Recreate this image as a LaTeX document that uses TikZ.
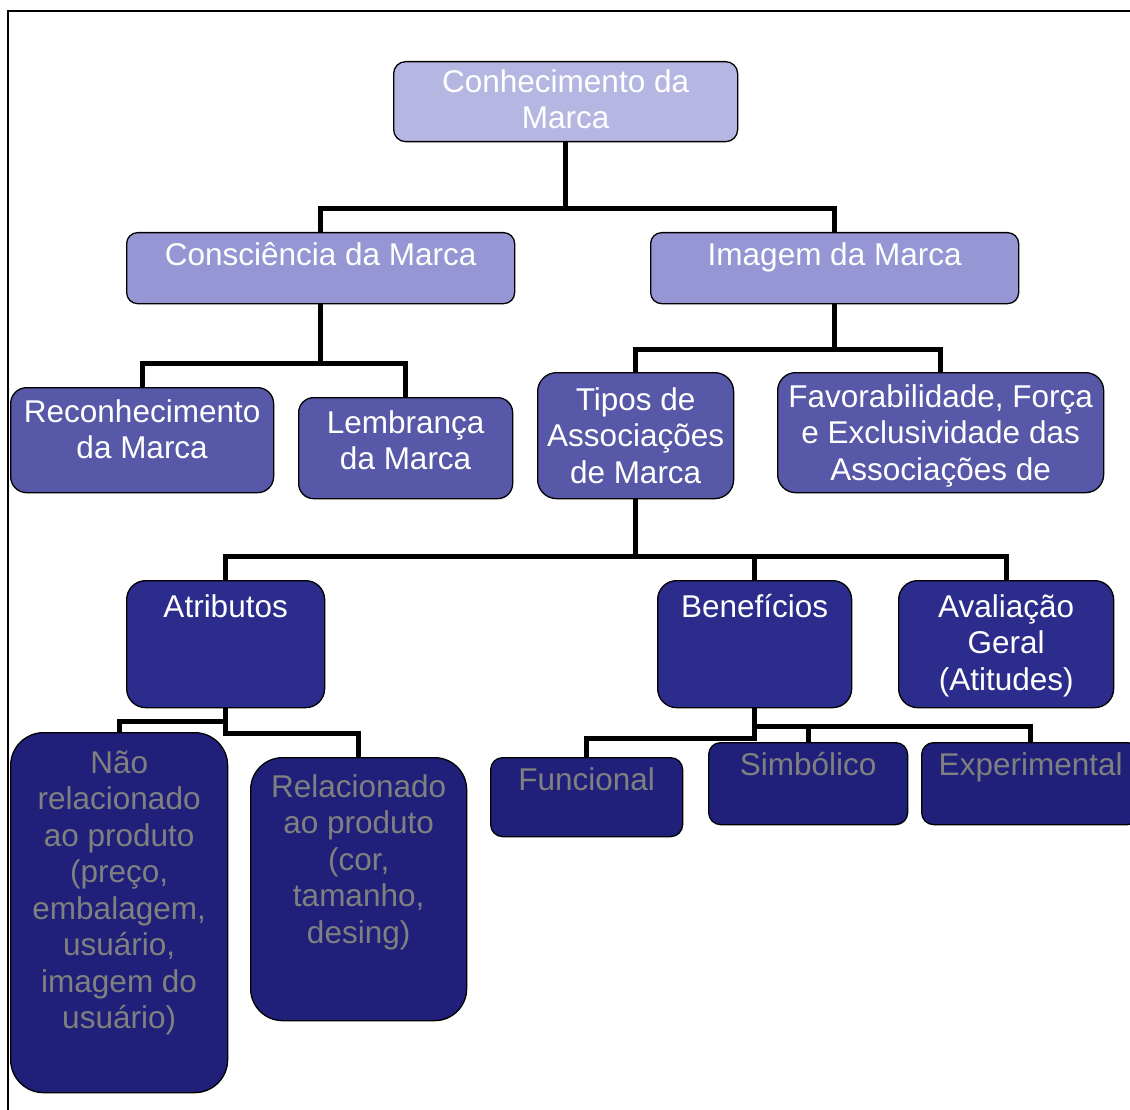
\documentclass[tikz,border=0pt]{standalone}
\usepackage{fontspec}
\setmainfont{Liberation Sans}
\usepackage{tikz}
\definecolor{lvOne}{RGB}{182,182,226}
\definecolor{lvTwo}{RGB}{150,150,212}
\definecolor{lvThree}{RGB}{88,88,168}
\definecolor{lvFour}{RGB}{44,44,140}
\definecolor{lvFive}{RGB}{32,32,122}
\definecolor{txtGray}{RGB}{128,128,128}

\begin{document}
\begin{tikzpicture}[x=1pt, y=-1pt,
  box/.style={draw=black, line width=1.3pt, inner sep=0pt, rounded corners=14pt,
    text=white, font=\fontsize{31.5}{36.5}\selectfont},
  lvone/.style={box, fill=lvOne},
  lvtwo/.style={box, fill=lvTwo},
  lvthree/.style={box, fill=lvThree},
  lvfour/.style={box, fill=lvFour},
  lvfive/.style={box, fill=lvFive, text=txtGray},
  link/.style={draw=black, line width=5pt}]

  \newcommand{\bx}[7]{\node[#5, minimum width=#3pt, minimum height=#4pt, anchor=north west] (#1) at (#2) {\parbox[c][#4pt][t]{#3pt}{\centering\vspace*{#6pt}\strut #7}};}

  \useasboundingbox (0,0) rectangle (1130,1110);
  \clip (0,0) rectangle (1130,1110);
  \draw[line width=1.5pt] (8,11) rectangle (1140,1120);

  \begin{scope}
%
 \bx{top}{393,61}{344}{80}{lvone, rounded corners=12pt}{5}{Conhecimento da\\Marca}
 \bx{cons}{126,232}{388}{71}{lvtwo, rounded corners=11pt}{7}{Consciência da Marca}
 \bx{imag}{650,232}{368}{71}{lvtwo, rounded corners=11pt}{7}{Imagem da Marca}
 \bx{reco}{10,387}{263}{105}{lvthree, rounded corners=16pt}{9}{Reconhecimento\\da Marca}
 \bx{lemb}{298,397}{214}{101}{lvthree, rounded corners=15pt}{10}{Lembrança\\da Marca}
 \bx{tipo}{537,372}{196}{126}{lvthree, rounded corners=19pt}{12}{Tipos de\\Associações\\de Marca}
 \bx{favo}{777,372}{326}{120}{lvthree, rounded corners=18pt}{9}{Favorabilidade, Força\\e Exclusividade das\\Associações de}
 \bx{atri}{126,580}{198}{127}{lvfour, rounded corners=19pt}{11}{Atributos}
 \bx{bene}{657,580}{194}{127}{lvfour, rounded corners=19pt}{11}{Benefícios}
 \bx{aval}{898,580}{215}{127}{lvfour, rounded corners=19pt}{11}{Avaliação\\Geral\\(Atitudes)}
 \bx{naor}{10,732}{217}{360}{lvfive, rounded corners=33pt}{15}{Não\\relacionado\\ao produto\\(preço,\\embalagem,\\usuário,\\imagem do\\usuário)}
 \bx{rela}{250,757}{216}{263}{lvfive, rounded corners=32pt}{14}{Relacionado\\ao produto\\(cor,\\tamanho,\\desing)}
 \bx{func}{490,757}{192}{79}{lvfive, rounded corners=12pt}{7}{Funcional}
 \bx{simb}{708,742}{199}{82}{lvfive, rounded corners=12pt}{7}{Simbólico}
 \bx{expe}{921,742}{218}{82}{lvfive, rounded corners=12pt}{7}{Experimental}
%
 \draw[link] (top.south) -- ++(0,66) coordinate (j1);
 \draw[link] (cons.north) |- (j1) -| (imag.north);
 \draw[link] (cons.south) -- ++(0,59) coordinate (j2);
 \draw[link] (reco.north) |- (j2) -| (lemb.north);
 \draw[link] (imag.south) -- ++(0,45) coordinate (j3);
 \draw[link] (tipo.north) |- (j3) -| (favo.north);
 \draw[link] (tipo.south) -- ++(0,57) coordinate (j4);
 \draw[link] (atri.north) |- (j4) -| (aval.north);
 \draw[link] (bene.north) -- (bene.north |- j4);
 \draw[link] (atri.south) -- ++(0,13) -| (naor.north);
 \draw[link] (atri.south) -- ++(0,25) -| (rela.north);
 \draw[link] (bene.south) -- ++(0,30) -| (func.north);
 \draw[link] (bene.south) -- ++(0,18) coordinate (j6) -| (expe.north);
 \draw[link] (simb.north) -- (simb.north |- j6);
  \end{scope}

\end{tikzpicture}
\end{document}
